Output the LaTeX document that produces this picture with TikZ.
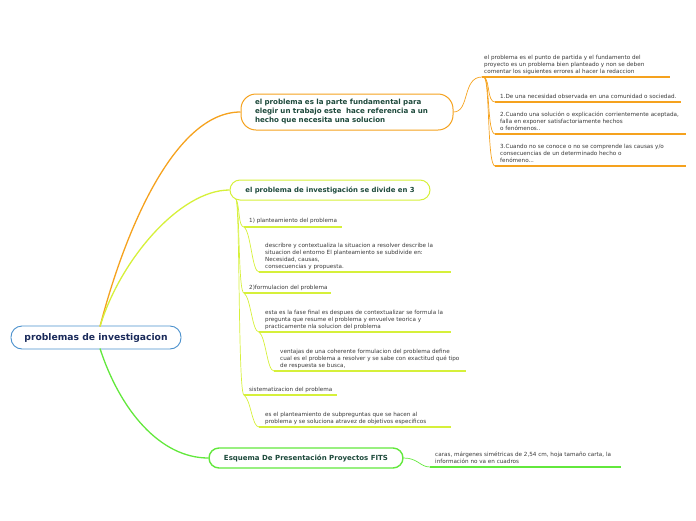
\documentclass[tikz,border=0pt]{standalone}
\usepackage{fontspec}
\setmainfont{DejaVu Sans}
\definecolor{corange}{HTML}{F5A21E}
\definecolor{cyellow}{HTML}{D6F03A}
\definecolor{cgreen}{HTML}{62E83C}
\definecolor{cblue}{HTML}{4A90CC}
\definecolor{ttl}{HTML}{1E4A3C}
\definecolor{rootc}{HTML}{1A2A5A}
\definecolor{txt}{HTML}{3A3A3A}
\begin{document}
\begin{tikzpicture}[x=1pt,y=-1pt,
  topicbox/.style={draw, fill=white, line width=1pt, inner sep=0pt, text=ttl,
    font=\bfseries\fontsize{6.9}{9}\selectfont},
  subtext/.style={anchor=north west, inner sep=0pt, align=left, text=txt,
    font=\fontsize{5.65}{7}\selectfont},
  uline/.style={line width=1.1pt},
  branch/.style={line width=1.3pt},
  twig/.style={line width=0.7pt}]
\useasboundingbox (0,0) rectangle (696,520);

% root
\node[draw=cblue, line width=0.9pt, rounded corners=11pt, minimum width=170pt, minimum height=23pt,
  inner sep=0pt, text=rootc, font=\bfseries\fontsize{9.2}{11}\selectfont] (root) at (96,337.5) {problemas de investigacion};

% main topics
\node[topicbox, draw=corange, rounded corners=15pt, minimum width=212pt, minimum height=36pt,
  text width=184pt, align=left, font=\bfseries\fontsize{7.1}{9}\selectfont] (n1) at (347,112)
  {el problema es la parte fundamental para\\elegir un trabajo este \ hace referencia a un\\hecho que necesita una solucion};
\node[topicbox, draw=cyellow, rounded corners=10pt, minimum width=200pt, minimum height=20pt] (n2) at (330,190)
  {el problema de investigación se divide en 3};
\node[topicbox, draw=cgreen, line width=1.4pt, rounded corners=10pt, minimum width=194pt, minimum height=20pt,
  font=\bfseries\fontsize{7}{9}\selectfont] (n3) at (306,458)
  {Esquema De Presentación Proyectos FITS};

% branches from root
\coordinate (rs) at (100,326.5);
\coordinate (rg) at (100,348.5);
\draw[branch, corange] (rs) .. controls (125,230) and (175,112) .. (n1.west);
\draw[branch, cyellow] (rs) .. controls (120,260) and (180,190) .. (n2.west);
\draw[branch, cgreen] (rg) .. controls (120,410) and (160,458) .. (n3.west);

% orange sub items
\node[subtext] (o0) at (484,55) {el problema es el punto de partida y el fundamento del\\proyecto es un problema bien planteado y non se deben\\comentar los siguientes errores al hacer la redaccion};
\coordinate (o0s) at (482,77); \coordinate (o0e) at (670,77);
\node[subtext] (o1) at (500,94) {1.De una necesidad observada en una comunidad o sociedad.};
\coordinate (o1s) at (495,102); \coordinate (o1e) at (681,102);
\node[subtext] (o2) at (500,112) {2.Cuando una solución o explicación corrientemente aceptada,\\falla en exponer satisfactoriamente hechos\\o fenómenos..};
\coordinate (o2s) at (495,134); \coordinate (o2e) at (686,134);
\node[subtext] (o3) at (500,144) {3.Cuando no se conoce o no se comprende las causas y/o\\consecuencias de un determinado hecho o\\fenómeno...};
\coordinate (o3s) at (495,166); \coordinate (o3e) at (686,166);
\foreach \s/\e in {o0s/o0e,o1s/o1e,o2s/o2e,o3s/o3e} \draw[uline, corange] (\s) -- (\e);
\draw[twig, corange] (n1.east) .. controls (470,112) and (462,77) .. (o0s);
\coordinate (ob) at (484,77);
\foreach \t in {o1s,o2s,o3s} \draw[twig, corange] (ob) .. controls (490,80) and (487,0|-\t) .. (\t);

% yellow sub items
\node[subtext] (y1) at (249,218) {1) planteamiento del problema};
\coordinate (y1s) at (244,227); \coordinate (y1e) at (342,227);
\node[subtext] (y1a) at (265,243) {describre y contextualiza la situacion a resolver describe la\\situacion del entorno El planteamiento se subdivide en:\\Necesidad, causas,\\consecuencias y propuesta.};
\coordinate (y1as) at (259,272); \coordinate (y1ae) at (451,272);
\node[subtext] (y2) at (249,285) {2)formulacion del problema};
\coordinate (y2s) at (244,293); \coordinate (y2e) at (331,293);
\node[subtext] (y2a) at (265,310) {esta es la fase final es despues de contextualizar se formula la\\pregunta que resume el problema y envuelve teorica y\\practicamente nla solucion del problema};
\coordinate (y2as) at (259,332); \coordinate (y2ae) at (451,332);
\node[subtext] (y2b) at (280,349) {ventajas de una coherente formulacion del problema define\\cual es el problema a resolver y se sabe con exactitud qué tipo\\de respuesta se busca,};
\coordinate (y2bs) at (274,371); \coordinate (y2be) at (466,371);
\node[subtext] (y3) at (249,387) {sistematizacion del problema};
\coordinate (y3s) at (244,395); \coordinate (y3e) at (337,395);
\node[subtext] (y3a) at (265,412) {es el planteamiento de subpreguntas que se hacen al\\problema y se soluciona atravez de objetivos especificos};
\coordinate (y3as) at (259,427); \coordinate (y3ae) at (451,427);
\foreach \s/\e in {y1s/y1e,y1as/y1ae,y2s/y2e,y2as/y2ae,y2bs/y2be,y3s/y3e,y3as/y3ae} \draw[uline, cyellow] (\s) -- (\e);
\coordinate (yb) at (236,199);
\foreach \t in {y1s,y2s,y3s} \draw[twig, cyellow] (yb) .. controls (240,206) and (238,0|-\t) .. (\t);
\draw[twig, cyellow] (y1s) .. controls (251,232) and (252,272) .. (y1as);
\draw[twig, cyellow] (y2s) .. controls (251,298) and (252,332) .. (y2as);
\draw[twig, cyellow] (y2as) .. controls (266,337) and (267,371) .. (y2bs);
\draw[twig, cyellow] (y3s) .. controls (251,400) and (252,427) .. (y3as);

% green sub item
\node[subtext] (g1) at (435,452) {caras, márgenes simétricas de 2,54 cm, hoja tamaño carta, la\\información no va en cuadros};
\coordinate (g1s) at (430,467); \coordinate (g1e) at (621,467);
\draw[uline, cgreen] (g1s) -- (g1e);
\draw[twig, cgreen] (n3.east) .. controls (418,458) and (420,467) .. (g1s);
\end{tikzpicture}
\end{document}
